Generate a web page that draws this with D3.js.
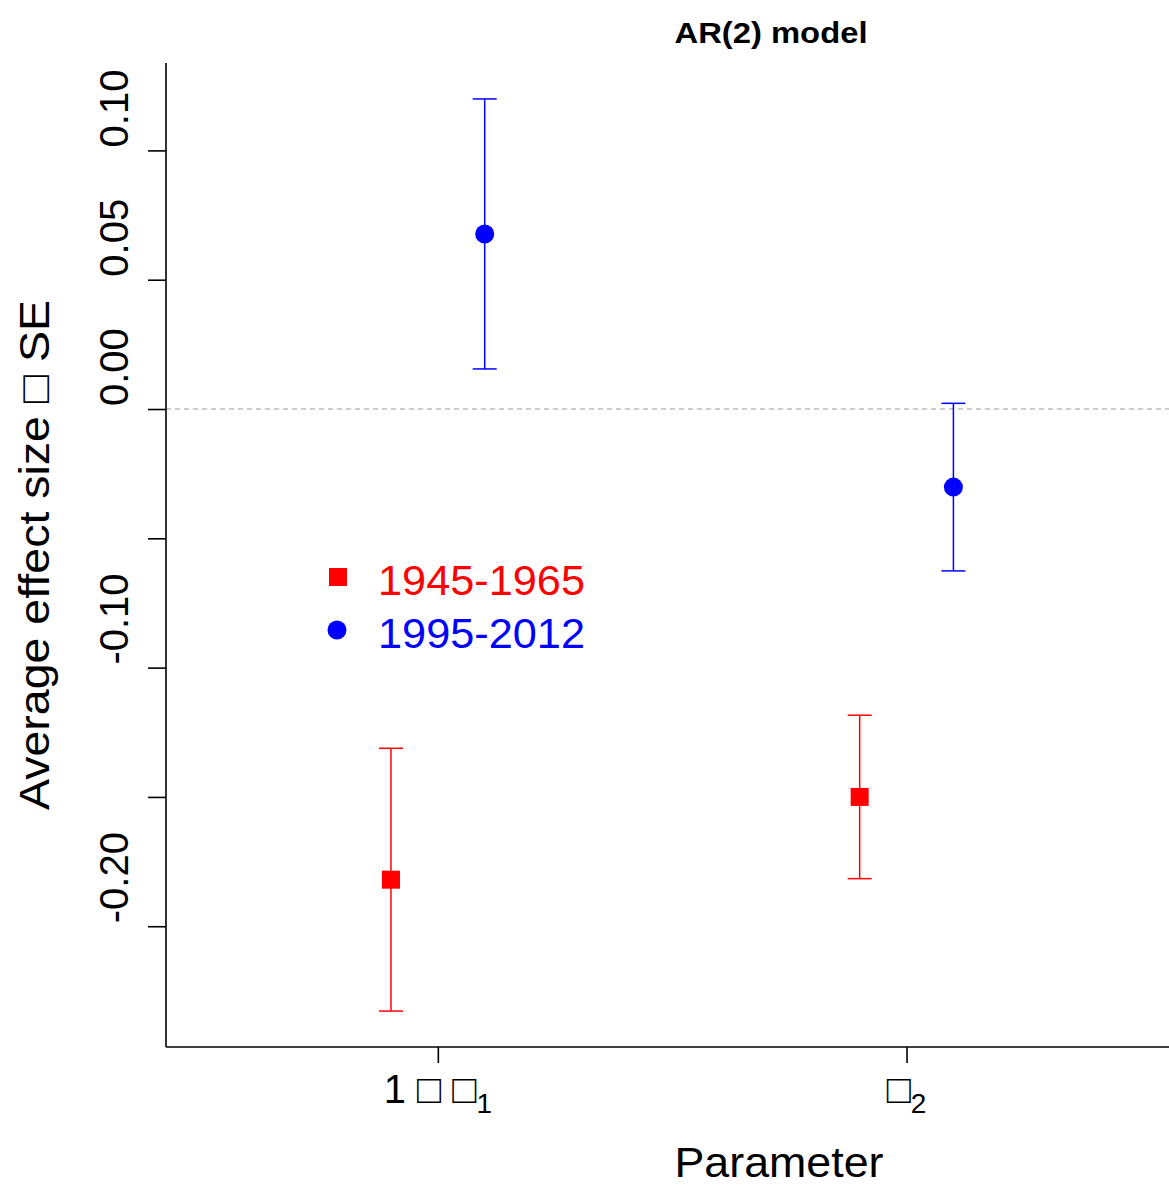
<!DOCTYPE html>
<html><head><meta charset="utf-8">
<script src="https://cdn.jsdelivr.net/npm/d3@7"></script>
<style>body{margin:0;background:#fff}svg{display:block}text{font-family:"Liberation Sans",Arial,sans-serif}</style>
</head><body>
<script>
const categories = [1, 2];
const seriesNames = ["1945-1965", "1995-2012"];
const seriesColors = ["#ff0000", "#0000ff"];
const estimates1945 = [-0.182, -0.150];
const se1945 = [0.0508, 0.0316];
const estimates1995 = [0.0677, -0.0302];
const se1995 = [0.0522, 0.0324];
const yTicks = [0.10, 0.05, 0.00, -0.05, -0.10, -0.15, -0.20];
const yTickLabels = ["0.10", "0.05", "0.00", "", "-0.10", "", "-0.20"];
const xTickLabels = [["1 \u25A1 \u25A1", "1"], ["\u25A1", "2"]];

const W = 1169, H = 1187;
const svg = d3.select("body").append("svg").attr("width", W).attr("height", H);

const x = d3.scaleLinear().domain([0.42, 2.56]).range([166, 1169]);
const y = d3.scaleLinear().domain([-0.2467, 0.1338]).range([1047, 63]);

// zero line
svg.append("line").attr("x1", 166).attr("x2", 1169).attr("y1", y(0)).attr("y2", y(0))
  .attr("stroke", "#bbbbbb").attr("stroke-width", 1.3).attr("stroke-dasharray", "5,4");

// y axis
const yAxis = d3.axisLeft(y).tickValues(yTicks).tickSize(18).tickFormat("");
const gy = svg.append("g").attr("transform", "translate(166,0)").call(yAxis);
gy.select(".domain").attr("stroke-width", 1.6).attr("d", `M-0,${y.range()[1]}V${y.range()[0]}`);
gy.selectAll(".tick line").attr("stroke-width", 1.6);
yTicks.forEach((t, i) => {
  if (!yTickLabels[i]) return;
  svg.append("text").attr("transform", `translate(128,${y(t) - 3}) rotate(-90)`)
    .attr("text-anchor", "start").attr("font-size", 40).text(yTickLabels[i]);
});

// x axis
const xAxis = d3.axisBottom(x).tickValues(categories).tickSize(16).tickFormat("");
const gx = svg.append("g").attr("transform", "translate(0,1047)").call(xAxis);
gx.select(".domain").attr("stroke-width", 1.6).attr("d", `M166,0H1169`);
gx.selectAll(".tick line").attr("stroke-width", 1.6);
categories.forEach((c, i) => {
  const t = svg.append("text").attr("x", x(c)).attr("y", 1103).attr("text-anchor", "middle").attr("font-size", 40);
  t.append("tspan").text(xTickLabels[i][0]);
  t.append("tspan").attr("font-size", 28).attr("dy", 10).text(xTickLabels[i][1]);
});

// titles
svg.append("text").attr("x", 771).attr("y", 43).attr("text-anchor", "middle")
  .attr("font-size", 29).attr("font-weight", "bold")
  .attr("textLength", 193).attr("lengthAdjust", "spacingAndGlyphs").text("AR(2) model");
svg.append("text").attr("x", 779).attr("y", 1177).attr("text-anchor", "middle")
  .attr("font-size", 42).attr("textLength", 209).attr("lengthAdjust", "spacingAndGlyphs").text("Parameter");
svg.append("text").attr("transform", "translate(49,555) rotate(-90)").attr("text-anchor", "middle")
  .attr("font-size", 43).attr("textLength", 510).attr("lengthAdjust", "spacingAndGlyphs")
  .text("Average effect size \u25A1 SE");

// data
const series = [
  { name: seriesNames[0], color: seriesColors[0], est: estimates1945, se: se1945, off: -0.1, shape: "square" },
  { name: seriesNames[1], color: seriesColors[1], est: estimates1995, se: se1995, off: 0.1, shape: "circle" }
];
const cap = 12;
series.forEach(s => {
  const g = svg.append("g");
  categories.forEach((c, i) => {
    const cx = x(c + s.off);
    const lo = y(s.est[i] - s.se[i]), hi = y(s.est[i] + s.se[i]);
    g.append("line").attr("x1", cx).attr("x2", cx).attr("y1", lo).attr("y2", hi).attr("stroke", s.color).attr("stroke-width", 1.5);
    [lo, hi].forEach(v => g.append("line").attr("x1", cx - cap).attr("x2", cx + cap).attr("y1", v).attr("y2", v)
      .attr("stroke", s.color).attr("stroke-width", 1.5));
    if (s.shape === "square") {
      g.append("rect").attr("x", cx - 9).attr("y", y(s.est[i]) - 9).attr("width", 18).attr("height", 18).attr("fill", s.color);
    } else {
      g.append("circle").attr("cx", cx).attr("cy", y(s.est[i])).attr("r", 9.5).attr("fill", s.color);
    }
  });
});

// legend
const leg = svg.append("g");
series.forEach((s, i) => {
  const ly = 577 + i * 53;
  if (s.shape === "square") leg.append("rect").attr("x", 329).attr("y", ly - 9).attr("width", 18).attr("height", 18).attr("fill", s.color);
  else leg.append("circle").attr("cx", 337).attr("cy", ly).attr("r", 9.5).attr("fill", s.color);
  leg.append("text").attr("x", 378).attr("y", ly + 18).attr("font-size", 42)
    .attr("textLength", 207).attr("lengthAdjust", "spacingAndGlyphs").attr("fill", s.color).text(s.name);
});
</script>
</body></html>
